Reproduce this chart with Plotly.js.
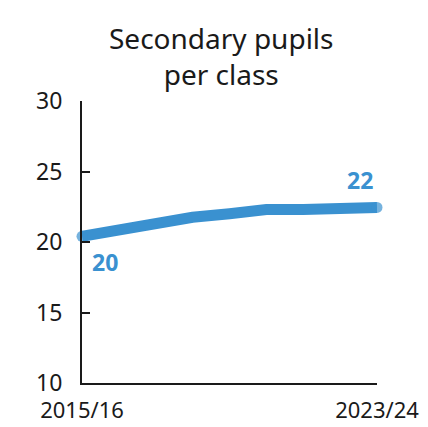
<!DOCTYPE html>
<html><head><meta charset="utf-8">
<script src="https://cdn.plot.ly/plotly-3.0.1.min.js"></script>
<style>html,body{margin:0;padding:0;background:#fff}</style>
</head><body><div id="chart" style="width:428px;height:427px"></div>
<script>
const years = ["2015/16","2016/17","2017/18","2018/19","2019/20","2020/21","2021/22","2022/23","2023/24"];
const pupilsPerClass = [20.4, 20.85, 21.3, 21.75, 22.0, 22.3, 22.3, 22.35, 22.45];
const yTicks = [10, 15, 20, 25, 30];
const xTickLabels = ["2015/16", "2023/24"];
const startLabel = "20";
const endLabel = "22";

const blue = "#3A91D0";
const font = "Noto Sans, sans-serif";
const n = years.length;

const trace = {
  x: years.map((_, i) => i),
  y: pupilsPerClass,
  mode: "lines+markers",
  line: {color: blue, width: 11},
  marker: {color: blue, size: pupilsPerClass.map((_, i) => (i === 0 || i === n - 1) ? 11 : 0), line: {width: 0}},
  cliponaxis: false,
  hoverinfo: "skip"
};

const layout = {
  width: 428, height: 427,
  margin: {l: 82, r: 51, t: 101, b: 44},
  paper_bgcolor: "#fff", plot_bgcolor: "#fff",
  showlegend: false,
  font: {family: font, color: "#1a1a1a"},
  xaxis: {
    range: [0, n - 1], showgrid: false, zeroline: false,
    showline: true, linecolor: "#1a1a1a", linewidth: 2,
    tickvals: [0, n - 1], ticktext: xTickLabels, ticks: "",
    tickfont: {size: 22, color: "#1a1a1a"}, ticklabelstandoff: 7
  },
  yaxis: {
    range: [10, 30], showgrid: false, zeroline: false,
    showline: true, linecolor: "#1a1a1a", linewidth: 2,
    tickvals: yTicks, ticks: "inside", ticklen: 8, tickwidth: 2, tickcolor: "#1a1a1a",
    tickfont: {size: 23, color: "#1a1a1a"}, ticklabelstandoff: 13
  },
  annotations: [
    {xref: "paper", yref: "paper", x: 0.474, y: 1, yshift: 84, xanchor: "center", yanchor: "top",
     text: "Secondary pupils<br>per class", showarrow: false, align: "center",
     font: {size: 28, color: "#1a1a1a", family: font}},
    {x: 0, y: pupilsPerClass[0], text: "<b>" + startLabel + "</b>", showarrow: false,
     xanchor: "center", yanchor: "middle", xshift: 23, yshift: -26,
     font: {size: 23, color: blue, family: font}},
    {x: n - 1, y: pupilsPerClass[n - 1], text: "<b>" + endLabel + "</b>", showarrow: false,
     xanchor: "center", yanchor: "middle", xshift: -17, yshift: 27,
     font: {size: 23, color: blue, family: font}}
  ]
};

Plotly.newPlot("chart", [trace], layout, {staticPlot: true, displayModeBar: false});
</script></body></html>
